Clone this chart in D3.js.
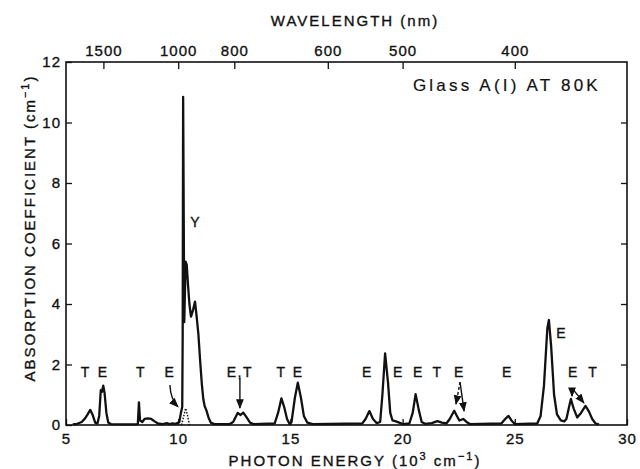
<!DOCTYPE html>
<html lang="en">
<head>
  <meta charset="utf-8">
  <title>Glass A(I) absorption</title>
  <style>
    body {
      margin:0;
      background-color:#fff;
    }
    svg text {
      font-family:"Liberation Sans", Arial, sans-serif;
      fill:#111;
      stroke:#111;
      stroke-width:0.35px;
    }
    .tick text {
      font-size:15px;
      letter-spacing:1px;
    }
    .tick line {
      stroke:#111;
      stroke-width:1.3;
    }
    .title {
      font-size:15px;
      letter-spacing:2px;
    }
    .lbl {
      font-size:14px;
      letter-spacing:1.5px;
    }
  </style>
</head>
<body>
  <div id="chart"></div>
  <script src="https://cdn.jsdelivr.net/npm/d3@7"></script>
  <script>
    // photon energy (10^3 cm^-1) and absorption coefficient (cm^-1)
    var energy = [5.3, 5.5, 5.7, 5.85, 5.97, 6.08, 6.18, 6.3, 6.4, 6.48, 6.55, 6.6, 6.66, 6.72, 6.8, 6.88, 7.0,
      8.0, 8.2, 8.25, 8.3, 8.4, 8.5, 8.65, 8.8, 8.95, 9.1, 9.3, 9.5, 9.6, 9.75, 9.9,
      10.05, 10.12, 10.18, 10.2, 10.22, 10.27, 10.33, 10.38, 10.44, 10.5, 10.57, 10.66, 10.75, 10.82, 10.9, 10.98,
      11.05, 11.12, 11.18, 11.25, 11.35, 11.45, 11.6,
      12.3, 12.45, 12.55, 12.65, 12.78, 12.9, 13.05, 13.2, 13.35,
      14.3, 14.45, 14.6, 14.72, 14.85, 14.97, 15.05, 15.2, 15.33, 15.47, 15.6, 15.75, 16.0,
      18.2, 18.35, 18.52, 18.68, 18.85, 19.0, 19.1, 19.22, 19.35, 19.45, 19.55, 19.7, 19.85, 20.0,
      20.3, 20.45, 20.58, 20.72, 20.85, 21.0, 21.3, 21.55, 21.75, 21.95, 22.1, 22.3, 22.42, 22.53, 22.7, 22.85, 23.0,
      24.4, 24.6, 24.72, 24.85, 25.0, 26.0, 26.15, 26.3, 26.45, 26.52, 26.62, 26.75, 26.88, 27.05, 27.2,
      27.3, 27.42, 27.5, 27.62, 27.78, 27.95, 28.15, 28.3, 28.45, 28.6, 28.75];
    var absorption = [0.02, 0.04, 0.1, 0.22, 0.36, 0.5, 0.35, 0.08, 0.05, 0.3, 1.15, 1.1, 1.3, 1.05, 0.4, 0.08, 0.03,
      0.02, 0.03, 0.75, 0.15, 0.1, 0.2, 0.22, 0.2, 0.12, 0.05, 0.03, 0.06, 0.03, 0.05, 0.04,
      0.1, 0.4, 0.6, 3.0, 10.85, 3.4, 5.4, 5.3, 4.6, 4.0, 3.58, 3.8, 4.08, 3.6, 3.0, 2.1,
      1.38, 0.85, 0.62, 0.5, 0.25, 0.08, 0.03,
      0.03, 0.1, 0.25, 0.4, 0.33, 0.41, 0.25, 0.08, 0.03,
      0.05, 0.4, 0.88, 0.6, 0.2, 0.03, 0.1, 0.9, 1.4, 0.9, 0.3, 0.08, 0.03,
      0.05, 0.2, 0.46, 0.2, 0.06, 0.1, 1.0, 2.37, 1.4, 0.4, 0.15, 0.12, 0.08, 0.03,
      0.05, 0.4, 1.02, 0.5, 0.1, 0.04, 0.06, 0.13, 0.08, 0.05, 0.2, 0.47, 0.3, 0.15, 0.2, 0.1, 0.03,
      0.05, 0.22, 0.3, 0.15, 0.03, 0.05, 0.3, 1.3, 3.2, 3.47, 2.6, 1.0, 0.35, 0.15, 0.12,
      0.2, 0.6, 0.86, 0.55, 0.25, 0.4, 0.63, 0.45, 0.2, 0.05, 0.02];

    // hatched component under the Y band
    var hatchEnergy = [10.15, 10.25, 10.33, 10.42, 10.5];
    var hatchAbs = [0.0, 0.3, 0.55, 0.3, 0.0];

    var xTicks = [5, 10, 15, 20, 25, 30];
    var yTicks = [0, 2, 4, 6, 8, 10, 12];
    var wavelengthTicks = [1500, 1000, 800, 600, 500, 400];

    // band labels: energy, absorption, text
    var labelE = [5.88, 6.66, 8.34, 9.63, 12.75, 14.61, 15.35, 18.43, 19.81, 20.7, 21.56, 22.53, 24.67, 27.61, 28.5, 27.09, 10.78];
    var labelV = [1.75, 1.75, 1.75, 1.75, 1.75, 1.75, 1.75, 1.75, 1.75, 1.75, 1.75, 1.75, 1.75, 1.75, 1.75, 3.03, 6.7];
    var labelText = ["T", "E", "T", "E", "E,T", "T", "E", "E", "E", "E", "T", "E", "E", "E", "T", "E", "Y"];

    // arrows: start energy, start abs, end energy, end abs, dashed
    var arrowFrom = [[9.63, 1.32], [12.75, 1.55], [22.56, 1.42], [22.56, 1.42], [27.55, 1.22], [27.55, 1.22]];
    var arrowTo = [[9.99, 0.6], [12.75, 0.56], [22.38, 0.69], [22.74, 0.46], [27.55, 0.95], [28.08, 0.73]];
    var arrowDash = [false, false, true, false, true, false];

    var W = 640, H = 469;
    var m = {top: 62, right: 13, bottom: 44, left: 66};
    var w = W - m.left - m.right, h = H - m.top - m.bottom;

    var svg = d3.select("#chart").append("svg")
        .attr("width", W)
        .attr("height", H);

    var defs = svg.append("defs");
    defs.append("marker")
        .attr("id", "head")
        .attr("viewBox", "0 0 10 10")
        .attr("refX", 9).attr("refY", 5)
        .attr("markerWidth", 7).attr("markerHeight", 7)
        .attr("orient", "auto")
      .append("path")
        .attr("d", "M0,1 L10,5 L0,9 z")
        .attr("fill", "#111");

    var g = svg.append("g")
        .attr("transform", "translate(" + m.left + "," + m.top + ")");

    var x = d3.scaleLinear().domain([5, 30]).range([0, w]);
    var y = d3.scaleLinear().domain([0, 12]).range([h, 0]);

    g.append("g")
        .call(d3.axisLeft(y).tickValues(yTicks).tickSize(-6).tickPadding(5));
    g.append("g")
        .attr("transform", "translate(" + w + ",0)")
        .call(d3.axisRight(y).tickValues(yTicks.slice(1, -1)).tickSize(-6).tickFormat(""));
    g.append("g")
        .attr("transform", "translate(0," + h + ")")
        .call(d3.axisBottom(x).tickValues(xTicks).tickSize(-6).tickPadding(8));
    g.append("g")
        .call(d3.axisTop(x).tickValues(wavelengthTicks.map(function(l){ return 1e4 / l; }))
          .tickSize(-7).tickPadding(6)
          .tickFormat(function(d){ return Math.round(1e4 / d); }));

    g.selectAll(".domain").remove();
    g.selectAll(".tick text").attr("fill", "#111");

    g.append("rect")
        .attr("width", w)
        .attr("height", h)
        .attr("fill", "none")
        .attr("stroke", "#111")
        .attr("stroke-width", 1.6);

    var line = d3.line()
        .x(function(d){ return x(d[0]); })
        .y(function(d){ return y(d[1]); });

    g.append("path")
        .datum(d3.zip(hatchEnergy, hatchAbs))
        .attr("d", line)
        .attr("fill", "none")
        .attr("stroke", "#111")
        .attr("stroke-width", 1.5)
        .attr("stroke-dasharray", "1.5,1.5");

    g.append("path")
        .datum(d3.zip(energy, absorption))
        .attr("d", line)
        .attr("fill", "none")
        .attr("stroke", "#111")
        .attr("stroke-width", 2.3)
        .attr("stroke-linejoin", "round");

    arrowFrom.forEach(function(a, i){
      var b = arrowTo[i];
      var d;
      if (i == 0) {
        d = "M" + x(a[0]) + "," + y(a[1]) + " Q" + x(9.66) + "," + y(0.85) + " " + x(b[0]) + "," + y(b[1]);
      } else {
        d = "M" + x(a[0]) + "," + y(a[1]) + " L" + x(b[0]) + "," + y(b[1]);
      }
      g.append("path")
          .attr("d", d)
          .attr("fill", "none")
          .attr("stroke", "#111")
          .attr("stroke-width", 1.4)
          .attr("stroke-dasharray", arrowDash[i] ? "3,2" : null)
          .attr("marker-end", "url(#head)");
    });

    g.selectAll("text.lbl")
        .data(labelText)
      .enter().append("text")
        .attr("class", "lbl")
        .attr("x", function(d, i){ return x(labelE[i]); })
        .attr("y", function(d, i){ return y(labelV[i]); })
        .attr("text-anchor", "middle")
        .attr("dy", "0.36em")
        .text(function(d){ return d; });

    g.append("text")
        .attr("x", x(20.46))
        .attr("y", y(11.24))
        .attr("dy", "0.36em")
        .style("font-size", "17px")
        .style("letter-spacing", "3.2px")
        .style("stroke-width", "0.2px")
        .text("Glass A(I) AT 80K");

    // axis titles
    svg.append("text")
        .attr("class", "title")
        .attr("x", 355).attr("y", 26)
        .attr("text-anchor", "middle")
        .text("WAVELENGTH (nm)");

    var xt = svg.append("text")
        .attr("class", "title")
        .attr("x", 355).attr("y", 466)
        .attr("text-anchor", "middle");
    xt.append("tspan").text("PHOTON ENERGY (10");
    xt.append("tspan").attr("dy", -6).style("font-size", "11px").text("3");
    xt.append("tspan").attr("dy", 6).text(" cm");
    xt.append("tspan").attr("dy", -6).style("font-size", "11px").text("\u22121");
    xt.append("tspan").attr("dy", 6).text(")");

    var yt = svg.append("text")
        .attr("class", "title")
        .attr("transform", "translate(35,228) rotate(-90)")
        .attr("text-anchor", "middle");
    yt.append("tspan").text("ABSORPTION COEFFICIENT (cm");
    yt.append("tspan").attr("dy", -6).style("font-size", "11px").text("\u22121");
    yt.append("tspan").attr("dy", 6).text(")");
  </script>
</body>
</html>
